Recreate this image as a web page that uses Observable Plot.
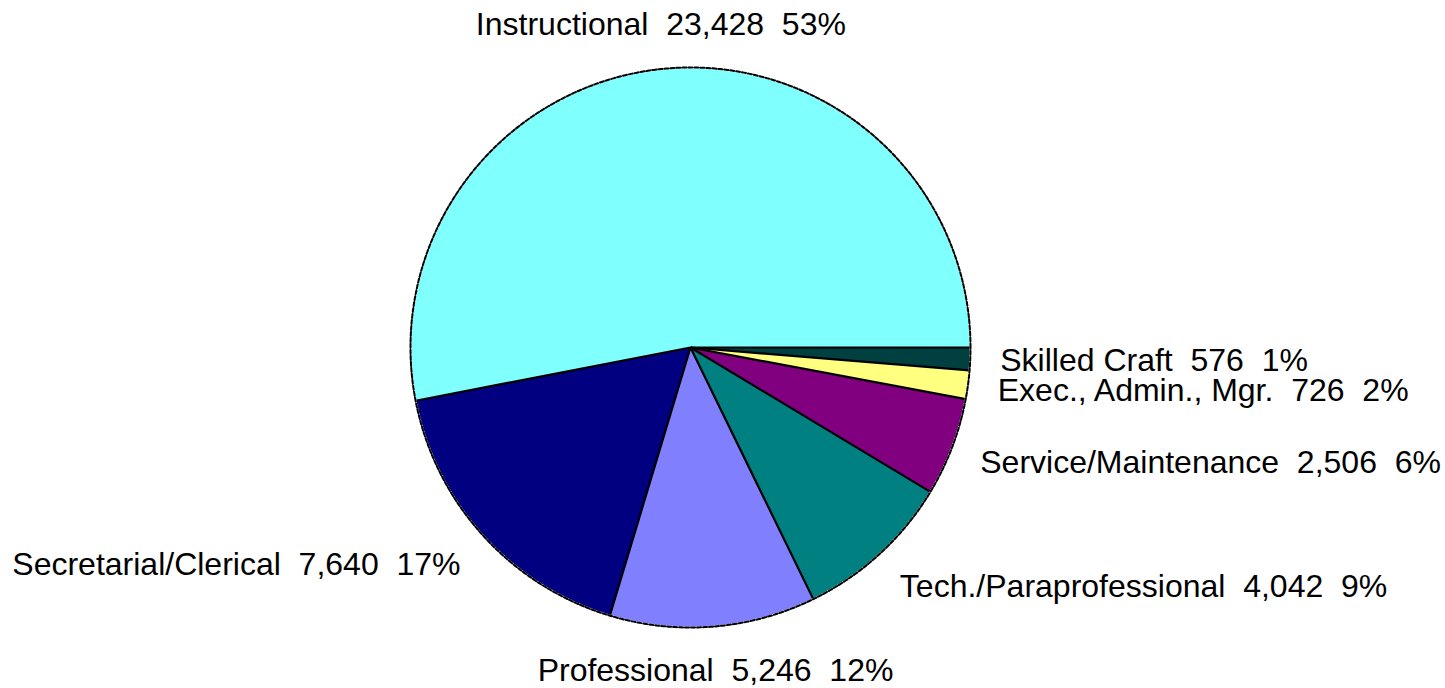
<!DOCTYPE html>
<html>
<head>
<meta charset="utf-8">
<script src="https://cdn.jsdelivr.net/npm/d3@7"></script>
<script src="https://cdn.jsdelivr.net/npm/@observablehq/plot@0.6"></script>
<style>
  html, body { margin: 0; padding: 0; background: #ffffff; }
  #chart svg { display: block; }
</style>
</head>
<body>
<div id="chart"></div>
<script>
// ---- Data ----
const categories = ["Instructional", "Secretarial/Clerical", "Professional", "Tech./Paraprofessional", "Service/Maintenance", "Exec., Admin., Mgr.", "Skilled Craft"];
const counts = [23428, 7640, 5246, 4042, 2506, 726, 576];
const colors = ["#80ffff", "#000080", "#8080ff", "#008080", "#800080", "#ffff80", "#004040"];

// ---- Layout ----
const W = 1445, H = 688;
const CX = 690, CY = 347, R = 280, RL = 310;

const total = d3.sum(counts);
const cum = [0, ...d3.cumsum(counts)];
const rad = Math.PI / 180;
const slices = categories.map((name, i) => {
  const a0 = cum[i] / total * 360, a1 = cum[i + 1] / total * 360;
  return {name, value: counts[i], color: colors[i], a0, a1, mid: (a0 + a1) / 2,
          pct: Math.round(counts[i] / total * 100)};
});

// polygon points for each slice (counterclockwise from east)
const polyPts = [];
for (const s of slices) {
  polyPts.push({name: s.name, x: 0, y: 0});
  const n = Math.max(2, Math.ceil((s.a1 - s.a0) / 0.5));
  for (let k = 0; k <= n; k++) {
    const a = (s.a0 + (s.a1 - s.a0) * k / n) * rad;
    polyPts.push({name: s.name, x: R * Math.cos(a), y: R * Math.sin(a)});
  }
  polyPts.push({name: s.name, x: 0, y: 0});
}
const circlePts = d3.range(0, 721).map(k => ({x: R * Math.cos(k * 0.5 * rad), y: R * Math.sin(k * 0.5 * rad)}));
const edges = slices.map(s => ({x1: 0, y1: 0, x2: R * Math.cos(s.a0 * rad), y2: R * Math.sin(s.a0 * rad)}));

const fmt = d3.format(",");
const NB = "\u00a0\u00a0";
const labels = slices.map(s => {
  const c = Math.cos(s.mid * rad), sn = Math.sin(s.mid * rad);
  return {
    text: `${s.name}${NB}${fmt(s.value)}${NB}${s.pct}%`,
    x: RL * c, y: (RL + 14) * sn,
    anchor: c > 0.3 ? "start" : c < -0.3 ? "end" : "middle"
  };
});

const textOpts = {x: "x", y: "y", text: "text", fontSize: 32, fontFamily: "Liberation Sans, Arial, sans-serif", fill: "#000"};

const chart = Plot.plot({
  width: W, height: H, margin: 0,
  x: {domain: [-CX, W - CX], range: [0, W], axis: null},
  y: {domain: [-(H - CY), CY], range: [H, 0], axis: null},
  color: {domain: categories, range: colors},
  marks: [
    Plot.line(polyPts, {x: "x", y: "y", z: "name", fill: "name", stroke: "none", curve: "linear"}),
    Plot.link(edges, {x1: "x1", y1: "y1", x2: "x2", y2: "y2", stroke: "#000", strokeWidth: 2.2}),
    Plot.line(circlePts, {x: "x", y: "y", stroke: "#fff", strokeWidth: 2}),
    Plot.line(circlePts, {x: "x", y: "y", stroke: "#000", strokeWidth: 2, strokeDasharray: "4,2"}),
    Plot.text(labels.filter(d => d.anchor === "start"), {...textOpts, textAnchor: "start"}),
    Plot.text(labels.filter(d => d.anchor === "end"), {...textOpts, textAnchor: "end"}),
    Plot.text(labels.filter(d => d.anchor === "middle"), {...textOpts, textAnchor: "middle"})
  ]
});
document.getElementById("chart").appendChild(chart);
</script>
</body>
</html>
